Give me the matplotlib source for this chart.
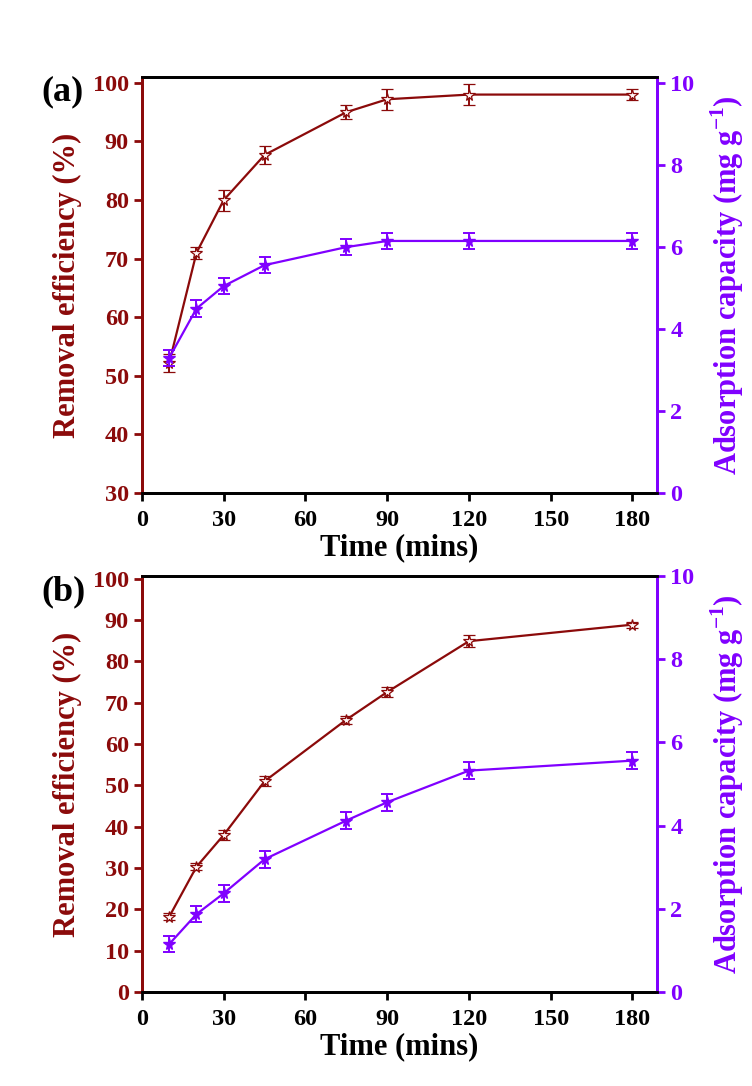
import matplotlib
matplotlib.use("Agg")
import matplotlib.pyplot as plt

plt.rcParams['font.family'] = ['Liberation Serif', 'DejaVu Serif']
plt.rcParams['font.weight'] = 'bold'
plt.rcParams['mathtext.fontset'] = 'custom'
plt.rcParams['mathtext.rm'] = 'Liberation Serif:bold'
plt.rcParams['mathtext.bf'] = 'Liberation Serif:bold'

time_min = [10, 20, 30, 45, 75, 90, 120, 180]

# Panel (a)
removal_a = [52.2, 71.0, 80.0, 87.7, 95.0, 97.2, 98.0, 98.0]
removal_a_err = [1.5, 1.0, 1.8, 1.5, 1.2, 1.8, 1.8, 1.0]
capacity_a = [3.3, 4.5, 5.05, 5.56, 6.0, 6.15, 6.15, 6.15]
capacity_a_err = [0.2, 0.2, 0.2, 0.2, 0.2, 0.2, 0.2, 0.2]

# Panel (b)
removal_b = [18.2, 30.3, 38.0, 51.0, 65.9, 72.6, 84.9, 88.9]
removal_b_err = [0.8, 0.8, 1.3, 1.2, 1.0, 1.3, 1.5, 0.7]
capacity_b = [1.15, 1.87, 2.37, 3.19, 4.12, 4.56, 5.32, 5.56]
capacity_b_err = [0.2, 0.2, 0.2, 0.2, 0.2, 0.2, 0.2, 0.2]

x_ticks = [0, 30, 60, 90, 120, 150, 180]
RED = '#8B0A0A'
PUR = '#8000FF'

fig = plt.figure(figsize=(7.52, 10.86), dpi=100)
fig.patch.set_facecolor('white')

panels = [
    dict(rect=[0.1888, 0.5460, 0.6848, 0.3831], rem=removal_a, rem_err=removal_a_err,
         cap=capacity_a, cap_err=capacity_a_err, ylim=(30, 101), yticks=range(30, 101, 10),
         label='(a)', label_y=0.915),
    dict(rect=[0.1888, 0.0866, 0.6848, 0.3831], rem=removal_b, rem_err=removal_b_err,
         cap=capacity_b, cap_err=capacity_b_err, ylim=(0, 100.7), yticks=range(0, 101, 10),
         label='(b)', label_y=0.455),
]

for p in panels:
    ax = fig.add_axes(p['rect'])
    ax2 = ax.twinx()
    ax.errorbar(time_min, p['rem'], yerr=p['rem_err'], color=RED, lw=1.6,
                marker='*', markersize=8.5, markerfacecolor='#FFF4F4', markeredgecolor=RED,
                markeredgewidth=0.9, capsize=4, elinewidth=1.4, capthick=1.4, zorder=3)
    ax2.errorbar(time_min, p['cap'], yerr=p['cap_err'], color=PUR, lw=1.6,
                 marker='*', markersize=8.5, markerfacecolor=PUR, markeredgecolor=PUR,
                 capsize=4, elinewidth=1.4, capthick=1.4, zorder=3)
    ax.set_xlim(0, 189)
    ax.set_ylim(*p['ylim'])
    ax2.set_ylim(0, 10.15 if p['label'] == '(a)' else 10.0)
    ax.set_xticks(x_ticks)
    ax.set_yticks(list(p['yticks']))
    ax2.set_yticks([0, 2, 4, 6, 8, 10])

    for sp in ['top', 'bottom']:
        ax2.spines[sp].set_linewidth(2)
        ax2.spines[sp].set_color('black')
    ax2.spines['left'].set_color(RED)
    ax2.spines['left'].set_linewidth(2)
    ax2.spines['right'].set_color(PUR)
    ax2.spines['right'].set_linewidth(2)
    for sp in ax.spines.values():
        sp.set_linewidth(2)
    ax.spines['left'].set_color(RED)
    ax.spines['right'].set_color(PUR)

    ax.tick_params(axis='x', direction='out', length=6, width=2, labelsize=17.5,
                   colors='black', top=False, pad=6)
    ax.tick_params(axis='y', direction='out', length=6, width=2, labelsize=17.5,
                   colors=RED)
    ax2.tick_params(axis='y', direction='out', length=6, width=2, labelsize=17.5,
                    colors=PUR)
    for t in ax.get_xticklabels() + ax.get_yticklabels() + ax2.get_yticklabels():
        t.set_fontweight('bold')

    ax.set_xlabel('Time (mins)', fontsize=22, fontweight='bold', labelpad=2)
    ax.set_ylabel('Removal efficiency (%)', fontsize=22, fontweight='bold', color=RED,
                  labelpad=8)
    ax2.set_ylabel(r'Adsorption capacity (mg g$^{\mathbf{-1}}$)', fontsize=22,
                   fontweight='bold', color=PUR, labelpad=10)
    fig.text(0.055, p['label_y'], p['label'], fontsize=26, fontweight='bold',
             ha='left', va='center')

fig.savefig('out.png', dpi=100, facecolor='white')
